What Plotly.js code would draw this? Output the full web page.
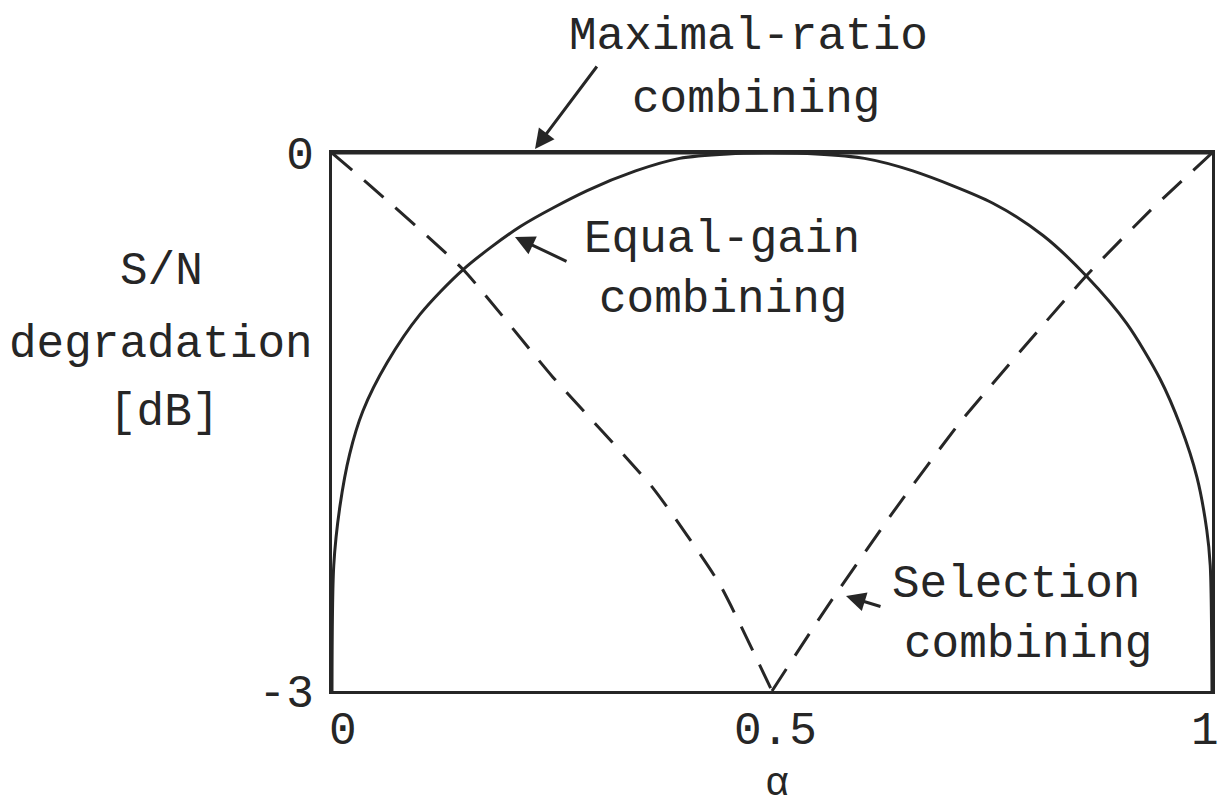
<!DOCTYPE html>
<html>
<head>
<meta charset="utf-8">
<script src="https://cdn.plot.ly/plotly-3.0.1.min.js"></script>
<style>html,body{margin:0;padding:0;background:#fff;}#chart{width:1224px;height:810px;}</style>
</head>
<body>
<div id="chart"></div>
<script>
// Equal-gain combining (solid curve)
const egAlpha = [0, 0.002, 0.009, 0.020, 0.035, 0.0625, 0.10, 0.149, 0.214, 0.29, 0.345, 0.395, 0.45, 0.5, 0.55, 0.605, 0.66, 0.751, 0.808, 0.858, 0.903, 0.941, 0.964, 0.983, 0.994, 0.998, 1];
const egDeg   = [-3, -2.3, -1.97, -1.68, -1.44, -1.17, -0.90, -0.65, -0.41, -0.21, -0.10, -0.03, -0.005, 0, -0.005, -0.03, -0.10, -0.28, -0.46, -0.69, -0.95, -1.26, -1.52, -1.81, -2.10, -2.30, -3];
// Selection combining (dashed curve), minimum at alpha = 0.5
const scAlpha = [0, 0.043, 0.149, 0.251, 0.365, 0.44, 0.5, 0.56, 0.638, 0.714, 0.858, 0.93, 1];
const scDeg   = [0, -0.18, -0.65, -1.25, -1.87, -2.4, -3, -2.55, -2.0, -1.5, -0.68, -0.32, 0];
// Maximal-ratio combining (reference, 0 dB)
const mrAlpha = [0, 1];
const mrDeg   = [0, 0];
// Tick labels
const xTickVals = [0, 0.5, 1];
const xTickText = ["0", "0.5", "1"];
const yTickVals = [-3, 0];
const yTickText = ["-3", "0"];

const ink = '#262626';
const FONT = 'Liberation Mono, Courier New, DejaVu Sans Mono, monospace';

const vIdx = scDeg.indexOf(Math.min(...scDeg));
const dashLine = {color: ink, width: 3, dash: '26px,16px', shape: 'spline', smoothing: 0.5};
const traces = [
  {x: mrAlpha, y: mrDeg, mode: 'lines', line: {color: ink, width: 3}, hoverinfo: 'skip', showlegend: false},
  {x: egAlpha, y: egDeg, mode: 'lines', line: {color: ink, width: 3, shape: 'spline', smoothing: 0.8}, showlegend: false},
  {x: scAlpha.slice(0, vIdx + 1), y: scDeg.slice(0, vIdx + 1), mode: 'lines', line: dashLine, showlegend: false},
  {x: scAlpha.slice(vIdx), y: scDeg.slice(vIdx), mode: 'lines', line: dashLine, showlegend: false}
];

// pixel helpers for annotation placement (paper coords of plot area)
const L = 332, R = 1212, T = 153, B = 691;
const px = v => (v - L) / (R - L);
const py = v => (B - v) / (B - T);

function txt(t, x, y, xa, ya, size) {
  return {text: t, xref: 'paper', yref: 'paper', x: px(x), y: py(y), xanchor: xa || 'center', yanchor: ya || 'middle',
          showarrow: false, font: {family: FONT, size: size || 46, color: ink}};
}
function arrow(hx, hy, ax, ay) {
  return {text: '', xref: 'paper', yref: 'paper', x: px(hx), y: py(hy), ax: ax, ay: ay, axref: 'pixel', ayref: 'pixel',
          showarrow: true, arrowhead: 2, arrowsize: 1.3, arrowwidth: 3, arrowcolor: ink};
}

const annotations = [
  txt('Maximal-ratio', 748, 37),
  txt('combining', 756, 100),
  txt('Equal-gain', 722, 240),
  txt('combining', 723, 300),
  txt('Selection', 1016, 585),
  txt('combining', 1028, 645),
  txt('S/N', 161, 272),
  txt('degradation', 161, 345),
  txt('[dB]', 164, 413),
  txt('α', 777, 809, 'center', 'bottom', 40),
  arrow(535, 149, 63, -84),
  arrow(515, 237, 53, 25),
  arrow(846, 596, 36, 11)
];
// x tick labels placed at the axis values
const xShift = [11, 3, -7];
xTickVals.forEach((v, i) => {
  annotations.push({text: xTickText[i], xref: 'x', yref: 'paper', x: v, y: py(732), xshift: xShift[i],
    xanchor: 'center', yanchor: 'middle', showarrow: false, font: {family: FONT, size: 46, color: ink}});
});

const layout = {
  width: 1224, height: 810,
  margin: {l: L, r: 1224 - R, t: T, b: 810 - B, pad: 0},
  paper_bgcolor: '#fff', plot_bgcolor: '#fff',
  showlegend: false,
  xaxis: {range: [0, 1], showgrid: false, zeroline: false, showline: true, mirror: true, linecolor: ink, linewidth: 3,
          ticks: '', showticklabels: false, fixedrange: true},
  yaxis: {range: [-3, 0], showgrid: false, zeroline: false, showline: true, mirror: true, linecolor: ink, linewidth: 3,
          ticks: '', tickvals: yTickVals, ticktext: yTickText, ticklabelstandoff: 6,
          tickfont: {family: FONT, size: 46, color: ink}, fixedrange: true},
  annotations: annotations
};

Plotly.newPlot('chart', traces, layout, {displayModeBar: false, staticPlot: true});
</script>
</body>
</html>
